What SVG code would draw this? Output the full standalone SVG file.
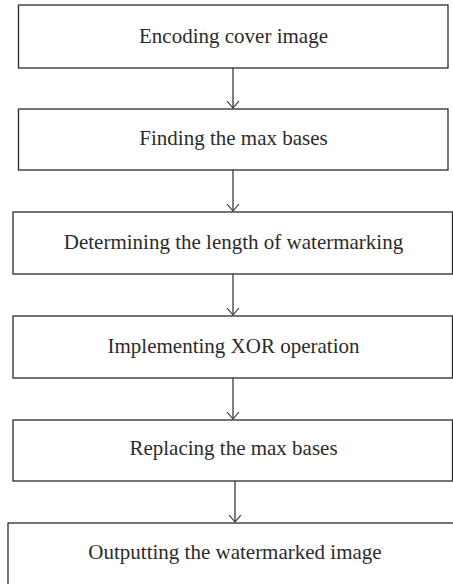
<svg xmlns="http://www.w3.org/2000/svg" width="453" height="584" viewBox="0 0 453 584">
<style>
.box{fill:#fff;stroke:#2b2b2b;stroke-width:1.3}
.lbl{font-family:"Liberation Serif","Times New Roman",serif;font-size:21px;fill:#2b2b2b;text-anchor:middle}
.con{stroke:#2b2b2b;stroke-width:1.2;fill:none}
</style>
<defs>
<marker id="arr" viewBox="0 0 8 14" refX="7" refY="7" markerWidth="8" markerHeight="14" markerUnits="userSpaceOnUse" orient="auto">
<path d="M0,1 L7,7 L0,13" fill="none" stroke="#2b2b2b" stroke-width="1.1"/>
</marker>
</defs>
<rect width="453" height="584" fill="#fff"/>
<g id="connectors">
<line class="con" x1="233" y1="68" x2="233" y2="108" marker-end="url(#arr)"/>
<line class="con" x1="233" y1="170" x2="233" y2="211" marker-end="url(#arr)"/>
<line class="con" x1="233" y1="274" x2="233" y2="315" marker-end="url(#arr)"/>
<line class="con" x1="233" y1="378" x2="233" y2="419" marker-end="url(#arr)"/>
<line class="con" x1="235" y1="481" x2="235" y2="522" marker-end="url(#arr)"/>
</g>
<g id="n1"><rect class="box" x="18.5" y="5" width="429.5" height="63"/><text class="lbl" x="233.5" y="43">Encoding cover image</text></g>
<g id="n2"><rect class="box" x="18.5" y="109" width="429.5" height="61"/><text class="lbl" x="233.5" y="144.5">Finding the max bases</text></g>
<g id="n3"><rect class="box" x="13" y="212" width="439.5" height="62"/><text class="lbl" x="233.5" y="249">Determining the length of watermarking</text></g>
<g id="n4"><rect class="box" x="13" y="316" width="439.5" height="62"/><text class="lbl" x="233.5" y="352.5">Implementing XOR operation</text></g>
<g id="n5"><rect class="box" x="13" y="420" width="439.5" height="61"/><text class="lbl" x="233.5" y="454.5">Replacing the max bases</text></g>
<g id="n6"><rect class="box" x="8" y="523" width="460" height="80"/><text class="lbl" x="235" y="558.5">Outputting the watermarked image</text></g>
</svg>
